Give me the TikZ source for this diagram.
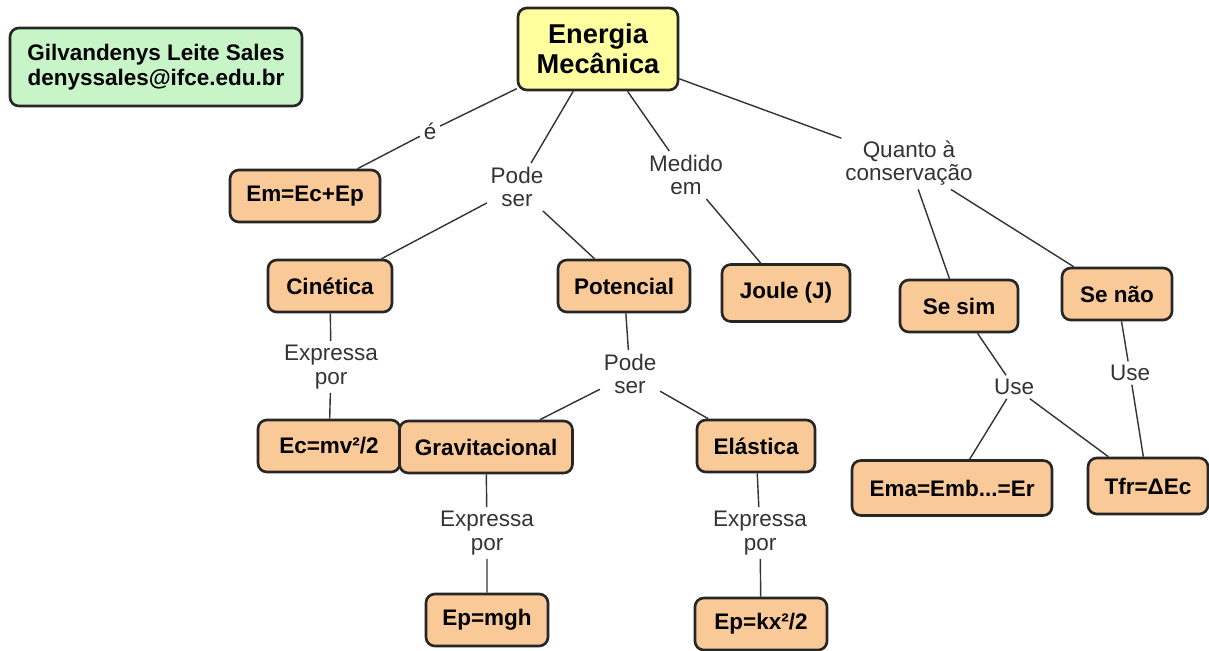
\documentclass[tikz,border=0pt]{standalone}
\usepackage{fontspec}
\setmainfont{Liberation Sans}
\usetikzlibrary{positioning}
\definecolor{peach}{RGB}{250,201,152}
\definecolor{lemon}{RGB}{255,255,160}
\definecolor{mint}{RGB}{200,245,200}

\begin{document}
\begin{tikzpicture}[x=0.02cm, y=-0.02cm, font=\fontsize{12.8}{13.5}\selectfont]
  % Styles
  \tikzset{
    box/.style={rounded corners=5pt, draw=black!85, line width=1.5pt, align=center, fill=peach, minimum height=1.04cm, font=\bfseries\fontsize{12.8}{14}\selectfont},
    phrase/.style={align=center, text=black!80, inner sep=2pt},
    link/.style={draw=black!80, line width=0.8pt}
  }
  \useasboundingbox (0,0) rectangle (1209,650);

  % Nodes
  \node[box, fill=mint, minimum width=5.84cm, minimum height=1.56cm] (autor) at (156,67) {Gilvandenys Leite Sales\\denyssales@ifce.edu.br};
  \node[box, fill=lemon, minimum width=3.2cm, minimum height=1.64cm, font=\bfseries\fontsize{15.5}{17}\selectfont] (em) at (598,49) {Energia\\Mecânica};

  \node[box, minimum width=3cm] (soma) at (305,196) {Em=Ec+Ep};
  \node[box, minimum width=2.48cm] (cin) at (330,286) {Cinética};
  \node[box, minimum width=2.64cm] (pot) at (624,286) {Potencial};
  \node[box, minimum width=2.56cm, minimum height=1.14cm] (joule) at (786,293) {Joule (J)};
  \node[box, minimum width=2.36cm] (sesim) at (959,306) {Se sim};
  \node[box, minimum width=2.2cm] (senao) at (1117,294) {Se não};

  \node[box, minimum width=2.84cm] (ec) at (329,446) {Ec=mv²/2};
  \node[box, minimum width=3.46cm] (grav) at (486,447) {Gravitacional};
  \node[box, minimum width=2.36cm] (elas) at (756,446) {Elástica};
  \node[box, minimum width=4cm, minimum height=1.1cm] (ema) at (952,488) {Ema=Emb...=Er};
  \node[box, minimum width=2.4cm, minimum height=1.12cm] (tfr) at (1148,486) {Tfr=ΔEc};
  \node[box, minimum width=2.44cm] (mgh) at (487,620) {Ep=mgh};
  \node[box, minimum width=2.64cm] (kx) at (761,624) {Ep=kx²/2};

  % Linking phrases
  \node[phrase] (e) at (430,131) {é};
  \node[phrase] (pode1) at (517,187) {Pode\\ser};
  \node[phrase] (medido) at (686,175) {Medido\\em};
  \node[phrase] (quanto) at (909,163) {Quanto à\\conservação};
  \node[phrase] (expr1) at (331,367) {Expressa\\por};
  \node[phrase] (pode2) at (630,374) {Pode\\ser};
  \node[phrase] (expr2) at (487,533) {Expressa\\por};
  \node[phrase] (expr3) at (760,533) {Expressa\\por};
  \node[phrase] (use1) at (1014,387) {Use};
  \node[phrase] (use2) at (1130,373) {Use};

  % Links
  \draw[link] (em) -- (e) -- (soma);
  \draw[link] (em) -- (pode1) -- (cin);
  \draw[link] (pode1) -- (pot);
  \draw[link] (em) -- (medido) -- (joule);
  \draw[link] (em) -- (quanto) -- (sesim);
  \draw[link] (quanto) -- (senao);
  \draw[link] (cin) -- (expr1) -- (ec);
  \draw[link] (pot) -- (pode2) -- (grav);
  \draw[link] (pode2) -- (elas);
  \draw[link] (grav) -- (expr2) -- (mgh);
  \draw[link] (elas) -- (expr3) -- (kx);
  \draw[link] (sesim) -- (use1) -- (ema);
  \draw[link] (use1) -- (tfr);
  \draw[link] (senao) -- (use2) -- (tfr);

\end{tikzpicture}
\end{document}
